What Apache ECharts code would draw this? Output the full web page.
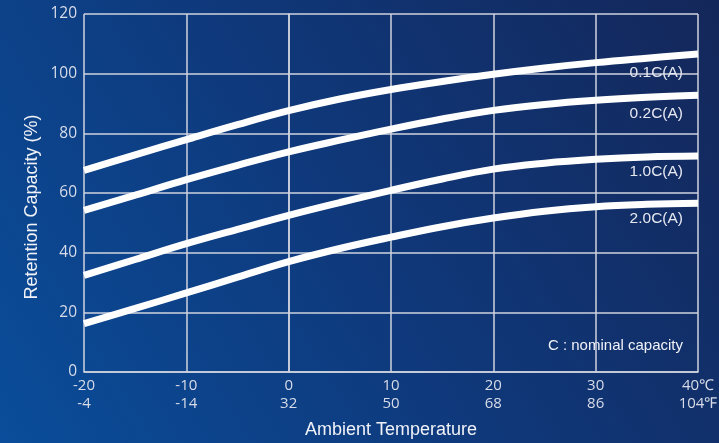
<!DOCTYPE html>
<html><head><meta charset="utf-8">
<script src="https://cdn.jsdelivr.net/npm/echarts@6/dist/echarts.min.js"></script>
<style>html,body{margin:0;padding:0;background:#0e3a7a;}#c{width:719px;height:443px;}</style>
</head><body><div id="c"></div>
<script>
const tempC = [-20, -15, -10, -5, 0, 5, 10, 15, 20, 25, 30, 35, 40];
const tickC = [-20, -10, 0, 10, 20, 30, 40];
const tickF = [-4, -14, 32, 50, 68, 86, 104];
const seriesNames = ['0.1C(A)', '0.2C(A)', '1.0C(A)', '2.0C(A)'];
const cap01 = [67.6, 72.8, 77.9, 82.9, 87.6, 91.5, 94.7, 97.4, 99.8, 101.9, 103.7, 105.2, 106.6];
const cap02 = [54.2, 59.3, 64.5, 69.3, 73.8, 77.7, 81.4, 84.8, 87.7, 89.7, 91.1, 92.1, 92.8];
const cap10 = [32.4, 37.7, 43, 47.8, 52.5, 56.8, 60.9, 64.7, 68, 70, 71.3, 72.1, 72.4];
const cap20 = [16.2, 21.3, 26.5, 31.8, 37, 41.4, 45.2, 48.7, 51.6, 53.9, 55.4, 56.2, 56.6];
const yTicks = [0, 20, 40, 60, 80, 100, 120];

const chart = echarts.init(document.getElementById('c'));
const gridColor = '#cfd3de';
const labelOffsets = [[-15, 11], [-15, 11], [-15, 8], [-15, 8]];
function mk(name, vals, idx) {
  return {
    name: name, type: 'line', smooth: 0.4, symbol: 'none',
    lineStyle: { color: '#ffffff', width: 7 },
    endLabel: {
      show: true, formatter: name, align: 'right', verticalAlign: 'top', distance: 0,
      offset: labelOffsets[idx], color: '#e6e8f0', fontSize: 15.5,
      fontFamily: 'Liberation Sans'
    },
    data: vals.map((v, i) => [tempC[i], v])
  };
}
const fLabels = {};
tickC.forEach((c, i) => { fLabels[c] = tickF[i]; });

chart.setOption({
  backgroundColor: {
    type: 'linear', x: 0, y: 1, x2: 1, y2: 0,
    colorStops: [
      { offset: 0, color: '#0a4d9a' },
      { offset: 0.5, color: '#0f387a' },
      { offset: 1, color: '#14275a' }
    ]
  },
  animation: false,
  grid: { left: 84, right: 21, top: 14, bottom: 71, containLabel: false, outerBoundsMode: 'none' },
  xAxis: {
    type: 'value', min: -20, max: 40, interval: 10,
    axisLine: { show: true, lineStyle: { color: gridColor, width: 1.5 } },
    axisTick: { show: false },
    splitLine: { show: true, lineStyle: { color: gridColor, width: 1.5 } },
    axisLabel: {
      color: '#d8dce8', fontSize: 15, fontFamily: 'Open Sans', lineHeight: 18.5, margin: 4,
      formatter: v => (v === 40 ? '40℃' : String(v)) + '\n' + (v === 40 ? '104℉' : fLabels[v])
    },
    name: 'Ambient Temperature', nameLocation: 'middle', nameGap: 49,
    nameTextStyle: { color: '#f0f2f8', fontSize: 18, fontFamily: 'Liberation Sans' }
  },
  yAxis: {
    type: 'value', min: 0, max: 120, interval: 20,
    axisLine: { show: true, lineStyle: { color: gridColor, width: 1.5 } },
    axisTick: { show: false },
    splitLine: { show: true, lineStyle: { color: gridColor, width: 1.5 } },
    axisLabel: { color: '#d8dce8', fontSize: 15.5, fontFamily: 'Open Sans', margin: 7,
      formatter: v => yTicks.includes(v) ? String(v) : '' }
  },
  graphic: [
    { type: 'text', x: 32, y: 207, rotation: Math.PI / 2,
      style: { text: 'Retention Capacity (%)', fill: '#f0f2f8', fontSize: 18,
        fontFamily: 'Liberation Sans', textAlign: 'center', textVerticalAlign: 'middle' } },
    { type: 'text', right: 36, top: 338,
      style: { text: 'C : nominal capacity', fill: '#f0f2f8', fontSize: 15,
        fontFamily: 'Liberation Sans' } }
  ],
  series: [mk(seriesNames[0], cap01, 0), mk(seriesNames[1], cap02, 1), mk(seriesNames[2], cap10, 2), mk(seriesNames[3], cap20, 3)]
});
</script></body></html>
